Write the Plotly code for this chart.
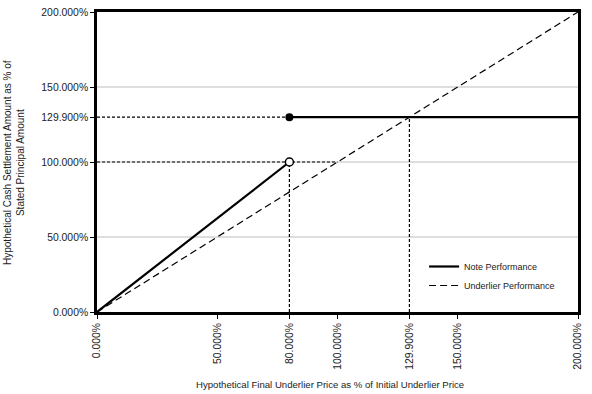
import plotly.graph_objects as go

x_ticks = [0, 50, 80, 100, 129.9, 150, 200]
y_ticks = [0, 50, 100, 129.9, 150, 200]
tick_fmt = lambda v: f"{v:.3f}%"

# Note performance
note_x1 = [0, 80]
note_y1 = [0, 100]
note_x2 = [80, 200]
note_y2 = [129.9, 129.9]
# Underlier performance
und_x = [0, 200]
und_y = [0, 200]
# reference dashed lines
ref_lines = [
    ([0, 80], [129.9, 129.9]),
    ([0, 100], [100, 100]),
    ([80, 80], [0, 100]),
    ([129.9, 129.9], [0, 129.9]),
]
grid_y = [50, 100, 150]

fig = go.Figure()
for gy in grid_y:
    fig.add_trace(go.Scatter(x=[0, 200], y=[gy, gy], mode="lines",
                             line=dict(color="#bdbdbd", width=1), showlegend=False, hoverinfo="skip"))
for xs, ys in ref_lines:
    fig.add_trace(go.Scatter(x=xs, y=ys, mode="lines",
                             line=dict(color="black", width=1.2, dash="3px,2px"), showlegend=False, hoverinfo="skip"))
fig.add_trace(go.Scatter(x=und_x, y=und_y, mode="lines", name="Underlier Performance",
                         line=dict(color="black", width=1.2, dash="7px,4px")))
fig.add_trace(go.Scatter(x=note_x1 + [None] + note_x2, y=note_y1 + [None] + note_y2, mode="lines",
                         name="Note Performance", line=dict(color="black", width=2.2)))
fig.add_trace(go.Scatter(x=[note_x1[1]], y=[note_y1[1]], mode="markers", showlegend=False,
                         marker=dict(symbol="circle", size=8, color="white", line=dict(color="black", width=1.5))))
fig.add_trace(go.Scatter(x=[note_x2[0]], y=[note_y2[0]], mode="markers", showlegend=False,
                         marker=dict(symbol="circle", size=8, color="black")))

fig.add_annotation(text="Hypothetical Final Underlier Price as % of Initial Underlier Price",
                   xref="paper", yref="paper", x=0.484, y=-0.24, xanchor="center", yanchor="middle",
                   showarrow=False, font=dict(size=9.6))
fig.add_annotation(text="Hypothetical Cash Settlement Amount as % of<br>Stated Principal Amount",
                   xref="paper", yref="paper", x=-0.1726, y=0.5, xanchor="center", yanchor="middle",
                   textangle=-90, showarrow=False, font=dict(size=10))

fig.update_layout(
    width=592, height=394,
    margin=dict(l=97, r=14, t=12, b=82),
    plot_bgcolor="white", paper_bgcolor="white",
    font=dict(family="Liberation Sans, Arial", size=10.4, color="#222"),
    legend=dict(x=0.68, y=0.2, xanchor="left", yanchor="top", traceorder="reversed",
                bgcolor="rgba(0,0,0,0)", font=dict(size=9), itemwidth=30),
    xaxis=dict(range=[0, 200], tickvals=x_ticks, ticktext=[tick_fmt(v) for v in x_ticks],
               tickangle=-90, showgrid=False, zeroline=False, showline=True, linecolor="black",
               linewidth=2.5, mirror=True, ticks="outside", ticklen=4, tickcolor="black",
               automargin=False),
    yaxis=dict(range=[0, 200], tickvals=y_ticks, ticktext=[tick_fmt(v) for v in y_ticks],
               showgrid=False, zeroline=False, showline=True, linecolor="black",
               linewidth=2.5, mirror=True, ticks="outside", ticklen=4, tickcolor="black",
               automargin=False),
)
fig.write_html("out.html", config={"displayModeBar": False},
               post_script="document.body.style.margin='0';")
